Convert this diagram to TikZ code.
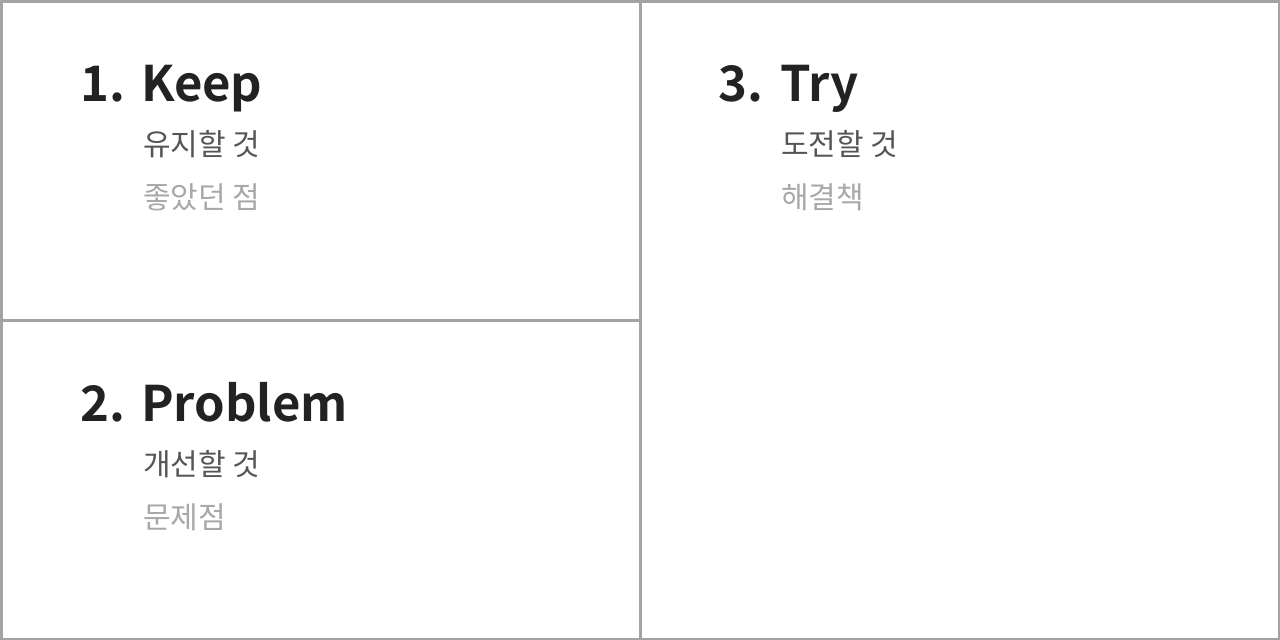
\documentclass[tikz,border=0pt]{standalone}
\usepackage{fontspec}
\setmainfont{Noto Sans CJK KR}[BoldFont={Noto Sans CJK KR Bold}]
\definecolor{linegray}{HTML}{A3A3A3}
\definecolor{headcol}{HTML}{222222}
\definecolor{subone}{HTML}{555555}
\definecolor{subtwo}{HTML}{A8A8A8}
\tikzset{
  frame/.style={draw=linegray, line width=3pt},
  num/.style={anchor=base west, inner sep=0pt, text=headcol, font=\bfseries\fontsize{49}{60}\selectfont},
  head/.style={anchor=base west, inner sep=0pt, text=headcol, font=\bfseries\fontsize{49}{60}\selectfont},
  subA/.style={anchor=base west, inner sep=0pt, text=subone, font=\fontsize{30}{36}\selectfont},
  subB/.style={anchor=base west, inner sep=0pt, text=subtwo, font=\fontsize{30}{36}\selectfont}
}
\begin{document}
\begin{tikzpicture}[x=1pt,y=-1pt]
\useasboundingbox (0,0) rectangle (1280,640);
\fill[white] (0,0) rectangle (1280,640);
\coordinate (tl) at (1,1);
\coordinate (br) at (1279,639);
\coordinate (vt) at (640,0);
\coordinate (vb) at (640,640);
\coordinate (hl) at (0,320);
\coordinate (hr) at (640,320);
\draw[frame] (tl) rectangle (br);
\draw[frame] (vt) -- (vb);
\draw[frame] (hl) -- (hr);
% Keep
\node[num] (n1) at (80,101) {1.};
\node[head] (h1) at (141,101) {Keep};
\node[subA] (a1) at (143,155) {유지할 것};
\node[subB] (b1) at (143,208) {좋았던 점};
% Problem
\node[num] (n2) at (80,421) {2.};
\node[head] (h2) at (141,421) {Problem};
\node[subA] (a2) at (143,475) {개선할 것};
\node[subB] (b2) at (143,528) {문제점};
% Try
\node[num] (n3) at (718,101) {3.};
\node[head] (h3) at (780,101) {Try};
\node[subA] (a3) at (781,155) {도전할 것};
\node[subB] (b3) at (781,208) {해결책};
\end{tikzpicture}
\end{document}
